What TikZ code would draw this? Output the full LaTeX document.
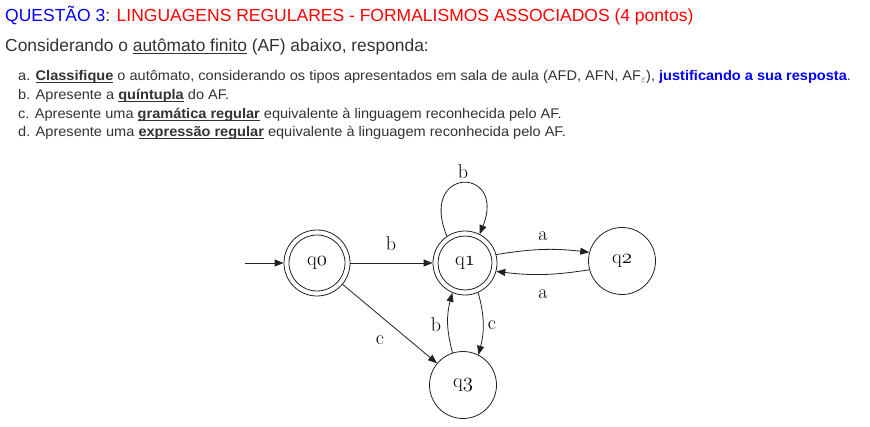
\documentclass[tikz,border=0pt]{standalone}
\usepackage{fontspec}
\setmainfont{Liberation Sans}
\newfontfamily\itemfont[FakeStretch=1.04]{Liberation Sans}
\newfontfamily\diagfont{Latin Modern Roman}
\usetikzlibrary{arrows.meta}
\definecolor{txt}{HTML}{333333}
\definecolor{qblue}{HTML}{0000FF}
\definecolor{qred}{HTML}{FF0000}
\definecolor{ln}{HTML}{222222}
\newcommand\ulx[1]{\setbox0\hbox{#1}\rlap{\rule[-2pt]{\wd0}{0.9pt}}\box0\relax}
\newcommand\osn[1]{{\fontencoding{OML}\fontfamily{cmm}\fontseries{m}\fontshape{it}\selectfont #1}}
\begin{document}
\begin{tikzpicture}[x=1pt,y=-1pt,
  tline/.style={anchor=base west,inner sep=0pt,text=txt},
  item/.style={anchor=base west,inner sep=0pt,text=txt,font=\itemfont\fontsize{14}{16}\selectfont},
  st/.style={circle,draw=ln,line width=0.8pt,minimum size=67pt,inner sep=0pt,font=\diagfont\fontsize{20}{21}\selectfont},
  lab/.style={inner sep=0pt,font=\diagfont\fontsize{20}{21}\selectfont},
  tr/.style={draw=ln,line width=0.8pt,-{Triangle[length=9pt,width=7pt]}}]
\useasboundingbox (0,0) rectangle (870,427);
\fill[white] (0,0) rectangle (870,427);
% texts
\node[tline,font=\fontsize{17.5}{19}\selectfont] (title) at (5,22) {\textcolor{qblue}{QUESTÃO 3}: \textcolor{qred}{LINGUAGENS REGULARES - FORMALISMOS ASSOCIADOS (4 pontos)}};
\node[tline,font=\fontsize{17.4}{19}\selectfont] (intro) at (5,52) {Considerando o \ulx{autômato finito} (AF) abaixo, responda:};
\node[item] (ia) at (18,80.5) {a. \ulx{\textbf{Classifique}} o autômato, considerando os tipos apresentados em sala de aula (AFD, AFN, AF$_{\varepsilon}$), \textcolor{qblue}{\textbf{justificando a sua resposta}}.};
\node[item] (ib) at (18,99.5) {b. Apresente a \ulx{\textbf{quíntupla}} do AF.};
\node[item] (ic) at (18,118.5) {c. Apresente uma \ulx{\textbf{gramática regular}} equivalente à linguagem reconhecida pelo AF.};
\node[item] (id) at (18,137) {d. Apresente uma \ulx{\textbf{expressão regular}} equivalente à linguagem reconhecida pelo AF.};
% states
\node[st,minimum size=66pt] (q0) at (317,263) {q\osn{0}};
\node[st,minimum size=64pt] (q1) at (465,263) {q\osn{1}};
\node[st] (q2) at (622,261) {q\osn{2}};
\node[st] (q3) at (463,385) {q\osn{3}};
\draw[ln,line width=0.8pt] (q0.center) circle (28pt);
\draw[ln,line width=0.8pt] (q1.center) circle (27pt);
\coordinate (start) at (245,263);
% transitions
\draw[tr] (start) -- (q0);
\draw[tr] (q0) -- (q1);
\draw[tr] (q1.124) .. controls (418,166) and (507,166) .. (q1.63);
\draw[tr] (q1.15) to[bend left=8] (q2.165);
\draw[tr] (q2.195) to[bend left=8] (q1.-15);
\draw[tr] (q0) -- (q3);
\draw[tr] (q3.108) to[bend left=15] (q1.247);
\draw[tr] (q1.294) to[bend left=15] (q3.63);
% labels
\node[lab] (lb01) at (391,244) {b};
\node[lab] (lb11) at (463,172) {b};
\node[lab] (la12) at (543,236) {a};
\node[lab] (la21) at (543,294) {a};
\node[lab] (lc03) at (380,340) {c};
\node[lab] (lb31) at (436,325) {b};
\node[lab] (lc13) at (492,325) {c};
\end{tikzpicture}
\end{document}
